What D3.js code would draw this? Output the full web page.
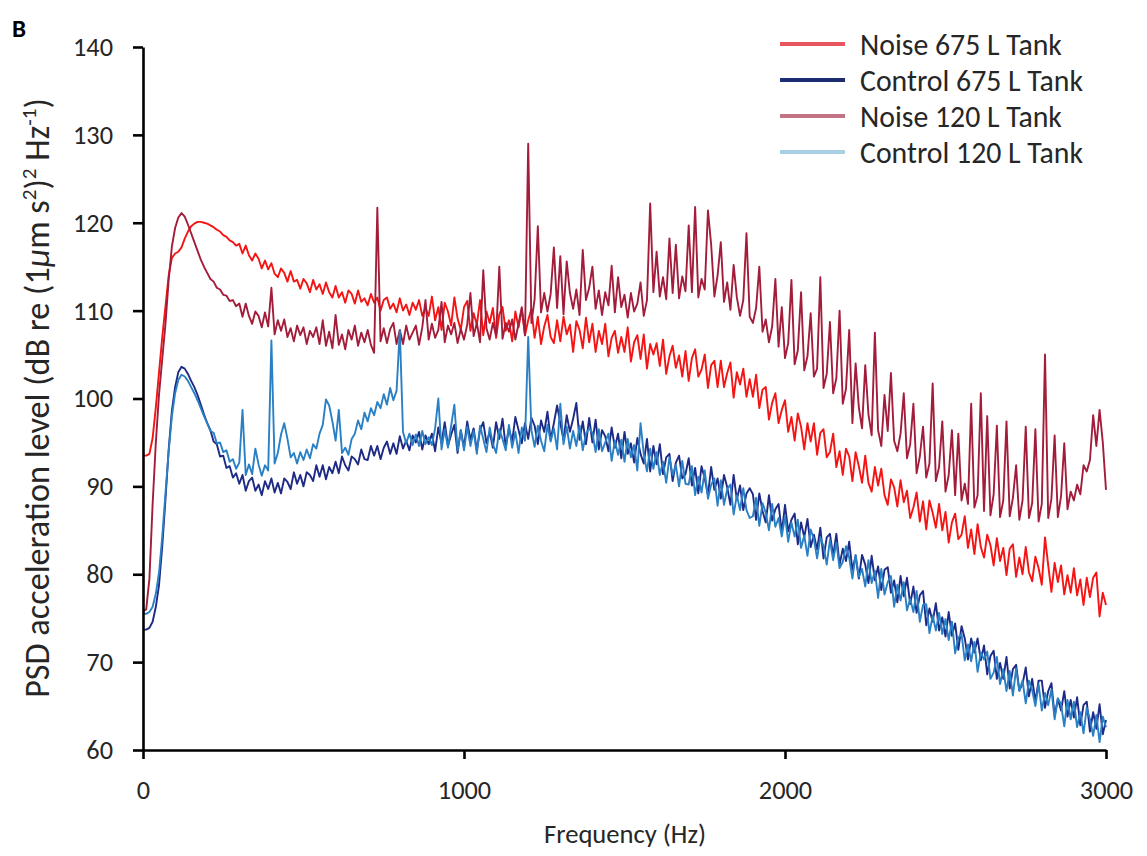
<!DOCTYPE html>
<html><head><meta charset="utf-8">
<script src="https://cdn.jsdelivr.net/npm/d3@7"></script>
<style>
body{margin:0;background:#fff}
svg{display:block}
text{font-family:Carlito,Calibri,Lato,sans-serif;fill:#262626}
</style>
</head><body>
<svg id="chart" width="1147" height="856"></svg>
<script>
// ---------- DATA ----------
const seriesNames = ["Noise 675 L Tank", "Control 675 L Tank", "Noise 120 L Tank", "Control 120 L Tank"];
const freqStart = 0, freqEnd = 3000, freqStep = 10;   // spectrum sampled every 10 Hz
const frequencies = d3.range(freqStart, freqEnd + freqStep / 2, freqStep);

const noise675 = [
93.5,93.5,93.7,95.5,99.0,103.0,107.0,110.5,114.0,116.0,
116.5,116.7,117.2,118.2,119.0,119.6,119.9,120.1,120.1,120.0,
119.9,119.7,119.5,119.2,119.0,118.6,118.4,118.0,117.8,117.4,
117.6,116.5,117.4,116.3,115.7,116.5,115.9,114.8,115.7,114.7,
115.4,114.2,113.8,114.8,114.3,113.3,114.5,113.3,113.5,112.5,
113.6,113.1,112.1,113.5,112.4,113.0,111.9,113.2,112.1,111.5,
112.8,111.5,112.1,110.9,112.3,111.9,110.8,112.3,111.0,111.4,
110.6,111.9,110.9,111.5,110.0,111.2,111.5,110.2,110.8,109.8,
111.4,110.0,110.7,109.5,110.9,110.1,111.2,109.4,110.3,109.4,
111.6,108.9,110.4,107.8,110.9,109.9,108.3,111.5,109.1,107.8,
110.4,111.1,107.7,109.7,108.4,111.2,107.2,109.9,108.6,110.3,
106.9,109.6,110.4,107.7,108.9,106.5,109.9,108.1,110.2,107.2,
108.9,110.2,106.9,109.3,106.2,108.2,109.5,107.0,106.3,108.9,
106.5,109.3,107.3,108.4,105.3,108.8,107.8,105.7,109.2,106.4,
108.5,105.3,107.7,106.2,108.5,104.8,106.9,107.7,105.2,107.0,
105.3,108.1,104.2,106.4,107.2,104.5,107.3,103.4,106.2,105.0,
106.3,103.7,106.7,102.8,104.8,106.0,103.5,104.9,102.5,105.4,
102.0,104.6,105.6,102.5,103.3,105.0,101.2,103.8,104.3,101.3,
104.3,101.3,102.9,104.1,100.1,103.0,101.6,103.4,100.2,102.2,
100.2,102.7,98.9,101.0,101.3,97.6,99.5,100.6,97.2,98.7,
99.8,96.2,97.9,95.2,98.3,96.8,94.2,97.2,95.1,97.2,
93.6,96.1,96.5,93.3,93.9,96.0,92.2,94.0,91.3,94.3,
93.4,90.6,93.9,92.3,90.4,93.5,90.4,89.4,92.2,90.1,
92.0,89.0,87.9,90.8,89.9,87.7,90.7,88.2,89.5,86.4,
87.6,89.3,86.0,88.3,85.1,88.4,87.0,85.3,88.0,85.0,
87.1,83.6,85.9,86.9,84.0,84.5,86.6,83.0,85.1,82.3,
85.7,83.1,81.9,84.5,83.3,81.0,84.1,81.5,83.0,79.9,
82.9,83.4,79.7,81.9,80.0,83.1,80.2,79.2,82.0,80.7,
78.8,84.2,81.0,78.0,81.3,79.1,81.0,77.7,79.9,77.9,
80.7,77.6,79.4,76.5,79.6,77.4,79.6,80.2,75.2,77.9,
76.5];

const control675 = [
73.7,73.7,73.9,74.6,76.3,78.8,83.2,88.5,94.2,98.6,
101.3,103.0,103.6,103.4,102.8,102.0,101.3,100.4,99.3,98.2,
97.2,96.4,95.1,94.8,93.4,93.5,92.1,92.3,91.0,91.5,
90.3,91.3,89.5,90.6,91.0,89.5,90.2,89.0,90.6,89.7,
90.9,89.3,90.4,89.2,90.9,90.5,89.7,91.6,90.3,91.3,
90.0,91.6,91.3,90.6,92.4,91.1,92.4,90.8,92.2,91.5,
92.8,91.5,93.4,92.4,91.8,93.4,93.1,92.5,94.2,93.1,
93.0,94.6,93.5,94.6,93.1,94.4,95.1,93.7,94.9,93.7,
95.7,94.3,95.2,94.1,95.8,95.0,96.2,94.2,95.8,94.8,
96.0,94.0,96.7,94.9,97.3,94.6,95.9,97.0,93.8,96.4,
94.4,97.4,95.3,96.6,94.1,96.4,97.3,94.9,96.2,94.4,
97.3,95.4,97.7,94.5,96.6,95.1,97.9,96.4,94.9,97.2,
95.4,97.8,96.9,94.8,97.5,96.2,98.5,95.3,97.2,99.2,
97.2,95.3,98.1,96.2,97.7,99.5,95.3,97.4,94.8,97.8,
95.0,97.6,94.2,96.4,95.7,94.0,96.7,94.4,96.0,93.2,
96.2,93.7,94.9,92.7,95.5,93.7,92.6,95.4,91.7,94.6,
92.5,94.8,91.4,93.3,93.7,90.6,92.7,93.5,90.9,91.4,
93.2,90.1,92.1,89.2,92.3,90.9,89.0,92.2,89.6,90.9,
88.6,91.3,89.9,87.9,91.3,88.5,90.1,87.3,89.2,89.8,
89.1,86.2,89.2,87.2,85.9,89.0,86.1,87.4,88.0,84.7,
87.9,84.9,86.2,86.9,83.4,85.9,84.2,86.3,83.1,84.5,
82.8,85.3,81.8,84.2,84.6,82.1,84.6,81.1,82.9,81.5,
83.7,80.5,82.1,79.5,82.2,81.1,79.0,82.1,79.3,80.9,
78.2,80.5,80.8,77.9,79.3,76.8,79.8,77.5,79.6,76.6,
78.6,75.6,77.6,78.1,74.2,76.1,74.6,76.7,73.6,75.1,
72.9,75.7,73.0,74.4,71.4,74.1,72.7,70.3,72.7,71.1,
72.7,70.2,71.9,68.6,70.7,71.3,68.1,69.9,68.1,70.6,
67.0,69.2,69.7,66.8,67.5,69.4,66.1,68.1,65.5,67.9,
67.9,64.8,66.7,67.6,63.9,65.8,64.5,66.7,63.8,65.7,
63.7,66.0,62.8,65.1,65.5,62.1,64.3,62.4,65.2,61.8,
63.4];

const noise120 = [
75.8,76.0,79.5,88.0,95.0,100.5,104.5,108.5,113.5,117.3,
119.4,120.6,121.1,120.7,119.8,118.8,117.8,116.8,115.8,115.0,
114.3,113.6,113.3,112.6,112.4,111.8,111.7,111.1,111.2,110.5,
110.8,109.3,110.8,109.4,108.5,109.9,109.4,108.1,109.8,108.2,
112.6,107.3,108.9,107.7,109.0,107.0,108.0,106.5,108.3,107.2,
108.1,106.2,107.7,107.0,108.1,106.2,108.9,106.0,107.6,105.7,
109.5,106.1,107.3,105.6,107.8,106.7,108.3,106.0,107.5,106.4,
107.8,106.1,105.2,121.7,106.5,108.0,106.3,107.9,108.6,106.2,
107.8,106.2,108.3,106.7,107.5,108.3,106.1,108.1,111.2,106.7,
108.5,106.9,107.8,111.0,106.4,108.3,107.3,108.6,106.3,107.9,
106.7,108.4,112.0,107.1,108.6,106.4,114.6,108.0,106.7,108.6,
107.2,115.0,106.8,108.6,107.6,109.0,106.7,108.5,110.4,107.2,
129.0,108.6,111.3,119.6,109.8,112.0,109.9,111.9,117.2,110.3,
116.2,109.6,115.6,112.0,110.2,112.4,109.5,116.9,111.2,112.6,
115.0,110.2,112.3,109.5,112.1,110.6,115.1,109.8,113.8,110.4,
111.8,109.2,112.0,109.9,110.8,113.2,109.4,111.2,122.2,112.1,
116.7,111.6,113.8,111.3,118.2,112.0,117.5,111.4,113.9,112.2,
119.7,112.1,121.8,111.5,113.6,112.4,121.4,117.5,111.6,114.0,
117.8,111.0,113.2,110.1,115.2,111.5,109.4,111.2,118.8,109.3,
108.6,110.3,115.0,107.6,109.0,106.4,108.2,113.6,105.9,110.4,
104.6,106.3,113.5,103.9,105.5,112.1,103.2,104.8,109.7,102.5,
103.4,113.8,101.2,102.8,108.7,100.6,102.3,110.0,99.4,101.1,
107.8,97.2,104.0,99.0,96.6,103.8,98.2,95.8,107.5,96.4,
94.6,100.4,96.3,102.9,95.2,94.0,96.0,100.6,93.2,94.8,
99.4,91.5,93.4,96.8,91.0,92.6,101.7,90.6,92.2,97.4,
89.4,91.3,96.4,89.0,96.0,88.4,90.3,88.0,99.4,87.6,
89.0,100.6,87.2,98.0,86.7,89.1,96.9,86.5,88.4,97.4,
86.6,88.7,92.4,86.2,88.4,96.8,86.4,88.1,96.5,86.0,
88.0,105.0,86.4,88.6,95.8,86.5,88.9,94.9,87.4,89.4,
88.4,90.2,89.1,92.4,91.7,93.0,98.1,94.6,98.7,95.0,
89.6];

const control120 = [
75.5,75.5,75.7,76.3,77.8,80.2,84.3,89.2,94.0,98.0,
100.6,102.1,102.7,102.5,102.0,101.3,100.6,99.8,98.9,98.0,
97.2,96.3,96.1,94.9,95.0,93.9,94.1,92.8,93.1,92.0,
92.7,98.7,91.3,92.5,91.4,94.3,92.5,91.2,92.4,91.8,
106.6,92.6,93.8,95.9,97.2,95.4,93.3,93.8,92.6,93.9,
93.0,94.2,93.2,94.8,94.3,96.0,97.0,99.9,99.2,97.4,
95.2,98.7,93.8,94.4,93.6,95.4,96.0,97.5,96.5,98.4,
97.4,98.9,98.1,99.6,98.9,100.5,99.3,101.2,99.8,100.9,
107.8,96.2,94.9,96.0,94.7,95.9,94.6,96.3,94.8,95.6,
94.7,96.6,100.0,94.2,96.5,94.4,96.9,99.3,94.1,96.4,
94.1,96.8,94.6,96.3,93.7,96.9,95.4,93.9,96.7,94.8,
93.8,96.5,95.4,94.1,97.0,94.4,96.2,93.8,96.7,95.2,
107.0,96.4,94.5,96.9,95.2,94.0,97.0,95.1,96.6,94.2,
99.4,94.8,96.8,94.3,96.3,94.6,96.9,94.1,96.0,96.6,
96.1,93.9,96.5,94.0,95.0,96.0,92.9,95.2,93.6,95.3,
92.8,95.4,93.3,94.7,91.8,97.2,93.7,91.7,94.3,92.0,
93.9,91.3,92.8,90.4,93.3,91.3,92.4,90.0,92.9,90.3,
90.2,92.3,89.0,91.1,89.3,91.8,88.6,90.2,90.9,87.8,
90.7,87.9,89.7,90.2,86.8,89.0,87.3,89.8,87.3,86.4,
86.6,88.7,85.5,88.1,87.0,85.0,88.0,85.4,86.4,84.3,
86.6,83.7,85.9,84.3,86.2,83.0,84.4,82.1,85.1,84.0,
81.8,84.2,83.2,81.1,83.9,81.6,83.6,80.7,81.4,83.2,
81.9,79.5,82.2,79.7,80.6,78.6,81.6,79.0,80.4,77.3,
80.6,77.7,79.1,79.8,76.3,78.8,77.0,79.1,75.9,77.2,
75.7,78.1,74.6,76.5,76.6,73.3,75.3,73.6,75.6,73.2,
74.9,72.5,74.6,71.0,72.8,73.2,70.2,72.0,70.1,72.3,
68.9,71.1,70.3,71.2,68.1,68.8,70.6,67.5,69.2,66.7,
69.0,66.2,69.3,66.7,67.9,65.3,67.9,66.8,65.0,67.5,
64.5,66.5,65.1,66.9,63.5,65.9,65.2,62.7,65.7,63.5,
65.5,62.6,64.3,61.9,64.8,63.5,61.6,64.0,60.9,63.8,
62.6];

const yTickValues = [60, 70, 80, 90, 100, 110, 120, 130, 140];
const xTickValues = [0, 1000, 2000, 3000];
const lineColors = ["#f51414", "#1d2a86", "#a31d3b", "#2a80c4"];
const legendColors = ["#e8555f", "#1d2b70", "#c27484", "#a9cfe2"];

// ---------- CHART ----------
const svg = d3.select("#chart");
const x = d3.scaleLinear().domain([0, 3000]).range([143, 1106]);
const y = d3.scaleLinear().domain([60, 140]).range([750, 47]);

const seriesValues = [noise675, control675, noise120, control120];
const line = d3.line().x(d => x(d[0])).y(d => y(d[1]));

seriesValues.forEach((vals, i) => {
  const pts = frequencies.slice(0, vals.length).map((f, k) => [f, vals[k]]);
  svg.append("path")
    .datum(pts)
    .attr("fill", "none")
    .attr("stroke", lineColors[i])
    .attr("stroke-width", 1.9)
    .attr("stroke-linejoin", "round")
    .attr("d", line);
});

// helper: scale a text's font so that it spans a target width
function fitSize(textSel, target) {
  const fs = parseFloat(textSel.attr("font-size"));
  const w = textSel.node().getComputedTextLength();
  return w > 0 ? fs * target / w : fs;
}

// axes
const yAxis = svg.append("g").attr("transform", "translate(143,0)")
  .call(d3.axisLeft(y).tickValues(yTickValues).tickSize(10).tickSizeOuter(0).tickPadding(20));
const xAxis = svg.append("g").attr("transform", "translate(0,750)")
  .call(d3.axisBottom(x).tickValues(xTickValues).tickFormat(d3.format("d"))
        .tickSize(9).tickSizeOuter(0).tickPadding(21));
[yAxis, xAxis].forEach(g => {
  g.select(".domain").attr("stroke", "#000").attr("stroke-width", 2.6);
  g.selectAll(".tick line").attr("stroke", "#000").attr("stroke-width", 2.6);
  g.selectAll(".tick text").attr("font-size", 25).attr("fill", "#262626")
    .style("font-family", "Carlito,Calibri,Lato,sans-serif");
});
// tick label size: "140" spans ~40 px in the reference
const tickFs = fitSize(yAxis.selectAll(".tick text").filter(d => d === 140), 40);
[yAxis, xAxis].forEach(g => g.selectAll(".tick text").attr("font-size", tickFs));

// axis titles
const xt = svg.append("text").attr("x", 625).attr("y", 843).attr("text-anchor", "middle")
  .attr("font-size", 25).text("Frequency (Hz)");
xt.attr("font-size", fitSize(xt, 162));

const yt = svg.append("text").attr("transform", "translate(49,398) rotate(-90)")
  .attr("text-anchor", "middle").attr("font-size", 25);
yt.append("tspan").text("PSD acceleration level (dB re (1");
yt.append("tspan").attr("font-style", "italic").text("μ");
yt.append("tspan").text("m s");
yt.append("tspan").attr("baseline-shift", "super").attr("font-size", "0.62em").text("2");
yt.append("tspan").text(")");
yt.append("tspan").attr("baseline-shift", "super").attr("font-size", "0.62em").text("2");
yt.append("tspan").text(" Hz");
yt.append("tspan").attr("baseline-shift", "super").attr("font-size", "0.62em").text("-1");
yt.append("tspan").text(")");
yt.attr("font-size", fitSize(yt, 600));

// panel letter
svg.append("text").attr("x", 12).attr("y", 37).attr("font-size", 25)
  .attr("font-weight", "bold").style("fill", "#000").text("B");

// legend
const legend = svg.append("g");
let legendFs = null;
seriesNames.forEach((name, i) => {
  const ly = 44 + i * 36;
  legend.append("line").attr("x1", 780).attr("x2", 845).attr("y1", ly).attr("y2", ly)
    .attr("stroke", legendColors[i]).attr("stroke-width", 4);
  const t = legend.append("text").attr("class", "lg").attr("x", 860).attr("y", ly)
    .attr("dy", "0.36em").attr("font-size", 25).text(name);
  if (i === 0) legendFs = fitSize(t, 202);
});
legend.selectAll("text.lg").attr("font-size", legendFs);
</script>
</body></html>
